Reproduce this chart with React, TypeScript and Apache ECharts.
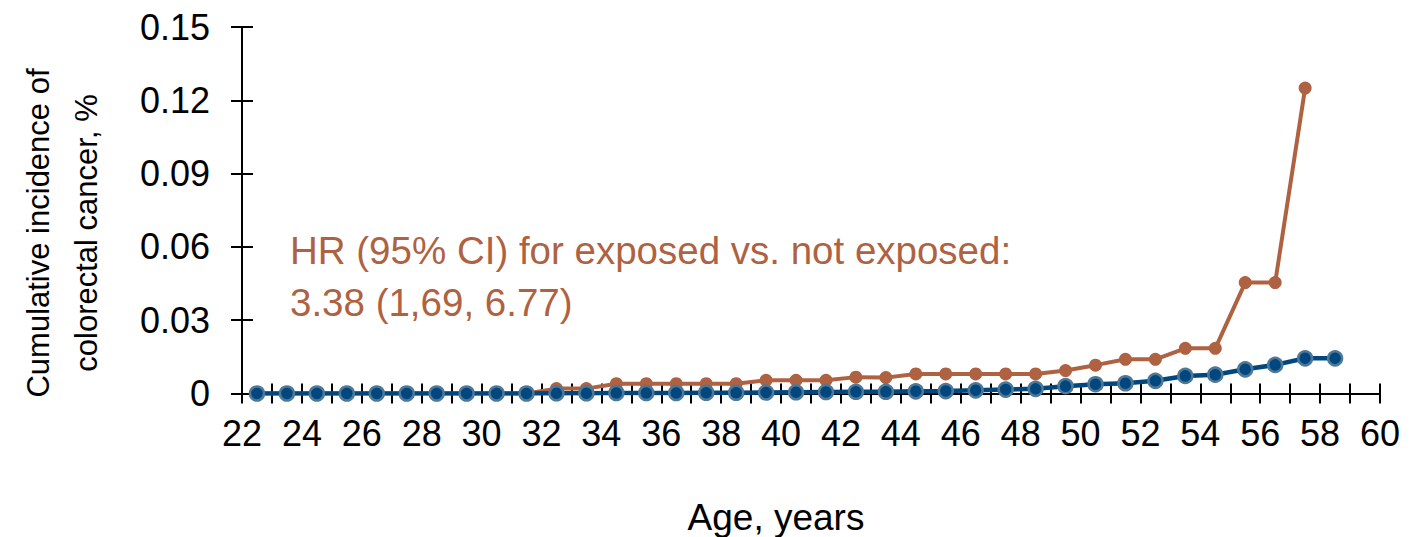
import React, { useEffect, useRef } from "react";
import * as echarts from "echarts";

const ages = [22.5, 23.5, 24.5, 25.5, 26.5, 27.5, 28.5, 29.5, 30.5, 31.5, 32.5, 33.5, 34.5, 35.5, 36.5, 37.5, 38.5, 39.5, 40.5, 41.5, 42.5, 43.5, 44.5, 45.5, 46.5, 47.5, 48.5, 49.5, 50.5, 51.5, 52.5, 53.5, 54.5, 55.5, 56.5, 57.5, 58.5];

const exposed = [0, 0, 0, 0, 0, 0, 0, 0, 0, 0, 0.002, 0.002, 0.004, 0.004, 0.004, 0.004, 0.004, 0.0054, 0.0054, 0.0054, 0.0067, 0.0065, 0.008, 0.008, 0.008, 0.008, 0.008, 0.0094, 0.0116, 0.014, 0.014, 0.0185, 0.0185, 0.0454, 0.0454, 0.125, null];

const notExposed = [0, 0, 0, 0, 0, 0, 0, 0, 0, 0, 0.0001, 0.0001, 0.0002, 0.0002, 0.0002, 0.0003, 0.0003, 0.0004, 0.0005, 0.0006, 0.0007, 0.0007, 0.0009, 0.001, 0.0013, 0.0016, 0.0019, 0.003, 0.0038, 0.0042, 0.0052, 0.0072, 0.0077, 0.0099, 0.0117, 0.0144, 0.0144];

const yTicks = ["0", "0.03", "0.06", "0.09", "0.12", "0.15"];
const annotationLines = ["HR (95% CI) for exposed vs. not exposed:", "3.38 (1,69, 6.77)"];
const yAxisTitle = ["Cumulative incidence of", "colorectal cancer, %"];
const xAxisTitle = "Age, years";

const ORANGE = "#AF6241";
const BLUE = "#00467F";
const BLUE_BORDER = "#4F7796";
const FONT = "Liberation Sans, Arial, sans-serif";

export default function App() {
  const ref = useRef<HTMLDivElement>(null);
  useEffect(() => {
    if (!ref.current) return;
    const chart = echarts.init(ref.current, null, { renderer: "svg" });
    const pair = (arr: (number | null)[]) =>
      ages.map((a, i) => [a, arr[i]]).filter((p) => p[1] !== null && p[1] !== undefined);
    const grid = { left: 242, right: 45, top: 27, bottom: 143.5 };
    chart.setOption({
      animation: false,
      textStyle: { fontFamily: FONT },
      grid,
      xAxis: [
        {
          type: "value",
          min: 22,
          max: 60,
          interval: 1,
          axisLine: { show: true, onZero: false, lineStyle: { color: "#000", width: 2 } },
          axisTick: { show: true, length: 10, lineStyle: { color: "#000", width: 2 } },
          axisLabel: {
            show: true,
            margin: 22,
            fontSize: 36,
            color: "#000",
            fontFamily: FONT,
            formatter: (v: number) => (v % 2 === 0 ? String(v) : ""),
          },
          splitLine: { show: false },
        },
        {
          type: "value",
          position: "bottom",
          min: 22,
          max: 60,
          interval: 1,
          axisLine: { show: false },
          axisTick: { show: true, inside: true, length: 10, lineStyle: { color: "#000", width: 2 } },
          axisLabel: { show: false },
          splitLine: { show: false },
        },
      ],
      yAxis: [
        {
          type: "value",
          min: 0,
          max: 0.15,
          interval: 0.03,
          axisLine: { show: true, lineStyle: { color: "#000", width: 2 } },
          axisTick: { show: true, length: 11, lineStyle: { color: "#000", width: 2 } },
          axisLabel: {
            margin: 32,
            fontSize: 36,
            color: "#000",
            fontFamily: FONT,
            formatter: (v: number) => yTicks[Math.round(v / 0.03)] ?? "",
          },
          splitLine: { show: false },
        },
        {
          type: "value",
          position: "left",
          min: 0,
          max: 0.15,
          interval: 0.03,
          axisLine: { show: false },
          axisTick: { show: true, inside: true, length: 11, lineStyle: { color: "#000", width: 2 } },
          axisLabel: { show: false },
          splitLine: { show: false },
        },
      ],
      series: [
        {
          name: "Exposed",
          type: "line",
          data: pair(exposed),
          z: 2,
          symbol: "circle",
          symbolSize: 13,
          showAllSymbol: true,
          lineStyle: { color: ORANGE, width: 4 },
          itemStyle: { color: ORANGE, borderWidth: 0 },
        },
        {
          name: "Not exposed",
          type: "line",
          data: pair(notExposed),
          z: 3,
          symbol: "circle",
          symbolSize: 14,
          showAllSymbol: true,
          lineStyle: { color: BLUE, width: 4.5 },
          itemStyle: { color: BLUE, borderColor: BLUE_BORDER, borderWidth: 2.5 },
        },
      ],
      graphic: [
        {
          type: "text",
          left: 290,
          top: 224,
          style: {
            text: annotationLines.join("\n"),
            fill: ORANGE,
            font: `38.5px ${FONT}`,
            lineHeight: 52,
          },
        },
        {
          type: "text",
          x: 62,
          y: 233,
          rotation: Math.PI / 2,
          style: {
            text: yAxisTitle.join("\n"),
            fill: "#000",
            font: `31px ${FONT}`,
            lineHeight: 48,
            align: "center",
            verticalAlign: "middle",
          },
        },
        {
          type: "text",
          x: 776,
          y: 517,
          style: {
            text: xAxisTitle,
            fill: "#000",
            font: `37px ${FONT}`,
            align: "center",
            verticalAlign: "middle",
          },
        },
      ],
    });
    return () => chart.dispose();
  }, []);
  return <div ref={ref} style={{ width: 1425, height: 537, position: "absolute", left: 0, top: 0 }} />;
}
